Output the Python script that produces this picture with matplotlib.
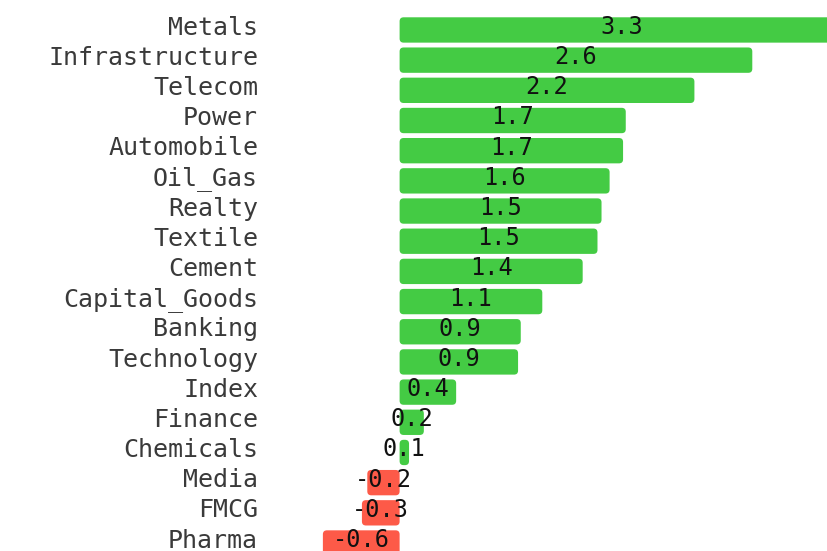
import matplotlib
matplotlib.use("Agg")
import matplotlib.pyplot as plt
from matplotlib.patches import FancyBboxPatch

sectors = ["Metals", "Infrastructure", "Telecom", "Power", "Automobile", "Oil_Gas",
           "Realty", "Textile", "Cement", "Capital_Goods", "Banking", "Technology",
           "Index", "Finance", "Chemicals", "Media", "FMCG", "Pharma"]
changes = [3.30, 2.62, 2.19, 1.68, 1.66, 1.56, 1.50, 1.47, 1.36, 1.06, 0.90, 0.88,
           0.42, 0.18, 0.07, -0.24, -0.28, -0.57]

GREEN = "#44cb44"
RED = "#fd5a48"

W, H = 827, 551
fig = plt.figure(figsize=(W / 100, H / 100), dpi=100)
ax = fig.add_axes([265 / W, 0, 1 - 265 / W, 1])

pos = list(range(len(sectors)))
colors = [GREEN if v >= 0 else RED for v in changes]
bars = ax.barh(pos, changes, height=0.84, color=colors)

# replace the bars by rounded ones of the same geometry
for b, c in zip(bars, colors):
    x0, y0 = b.get_x(), b.get_y()
    w, h = b.get_width(), b.get_height()
    if w < 0:
        x0, w = x0 + w, -w
    r = min(0.03, w / 2)
    p = FancyBboxPatch((x0, y0), w, h,
                       boxstyle=f"round,pad=0,rounding_size={r}",
                       mutation_aspect=4.4, facecolor=c, edgecolor="none")
    ax.add_patch(p)
    b.set_visible(False)

for b, v in zip(bars, changes):
    ax.text(v / 2, b.get_y() + b.get_height() / 2 - 0.1, f"{v:.1f}",
            ha="center", va="center", fontsize=17, color="#111111",
            family="DejaVu Sans Mono")

ax.set_xlim(-1.0, 3.175)
ax.set_ylim(17.265, -0.993)
ax.set_yticks([p - 0.08 for p in pos])
ax.set_yticklabels(sectors, family="DejaVu Sans Mono", fontsize=18, color="#3a3a3a")
for t in ax.get_yticklabels():
    t.set_verticalalignment("center")
ax.tick_params(axis="y", length=0, pad=5)
ax.set_xticks([])
for s in ax.spines.values():
    s.set_visible(False)

fig.savefig("out.png", dpi=100)
